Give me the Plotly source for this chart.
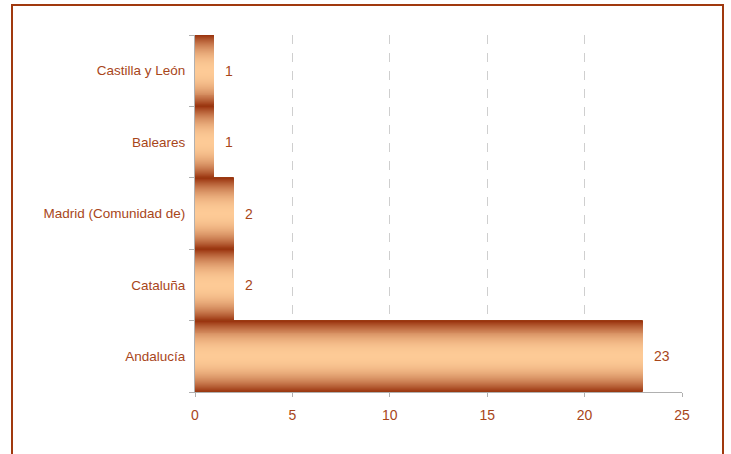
import plotly.graph_objects as go

categories = ["Andalucía", "Cataluña", "Madrid (Comunidad de)", "Baleares", "Castilla y León"]
values = [23, 2, 2, 1, 1]
x_ticks = [0, 5, 10, 15, 20, 25]

TEXT = "#A8461A"
BORDER = "#A0390E"
DARK = (155, 53, 16)
LIGHT = (253, 202, 150)

def mix(t):
    r = [round(LIGHT[k] + (DARK[k] - LIGHT[k]) * t) for k in range(3)]
    return f"rgb({r[0]},{r[1]},{r[2]})"

fig = go.Figure()
N = 36
for i in range(N):
    w = 1 - i / N
    t = w ** 2.2
    fig.add_trace(go.Bar(
        y=categories, x=values, orientation="h", width=w,
        marker=dict(color=mix(t),
                    line=dict(width=1 if i == 0 else 0, color="#9A3A12")),
        hoverinfo="skip", showlegend=False,
    ))

for c, v in zip(categories, values):
    fig.add_annotation(x=v, y=c, text=str(v), showarrow=False, xanchor="left",
                       xshift=9, font=dict(size=14, color=TEXT, family="Liberation Sans, Arial"))

fig.add_shape(type="rect", xref="paper", yref="paper",
              x0=(12 - 195) / 487, x1=(723 - 195) / 487,
              y0=-0.2, y1=(392 - 5) / 357,
              line=dict(color=BORDER, width=2), fillcolor="rgba(0,0,0,0)", layer="below")

fig.update_layout(
    width=731, height=454,
    margin=dict(l=195, r=49, t=35, b=62),
    barmode="overlay", bargap=0,
    plot_bgcolor="white", paper_bgcolor="white",
    font=dict(family="Liberation Sans, Arial", color=TEXT, size=13),
    xaxis=dict(range=[0, 25], tickvals=x_ticks, showgrid=True, gridcolor="#CFCFCF",
               griddash="dash", gridwidth=1, zeroline=False, showline=True, linecolor="#B0B0B0",
               ticks="outside", ticklen=4, tickcolor="#B0B0B0", tickfont=dict(size=14),
               ticklabelstandoff=6),
    yaxis=dict(type="category", categoryorder="array", categoryarray=categories,
               showgrid=False, zeroline=False, showline=True, linecolor="#B0B0B0",
               ticks="outside", ticklen=5, tickcolor="#B0B0B0", tickson="boundaries",
               tickfont=dict(size=13.5), ticklabelstandoff=6),
)

fig.write_html("out.html", config={"displayModeBar": False},
               post_script="document.body.style.margin='0';")
